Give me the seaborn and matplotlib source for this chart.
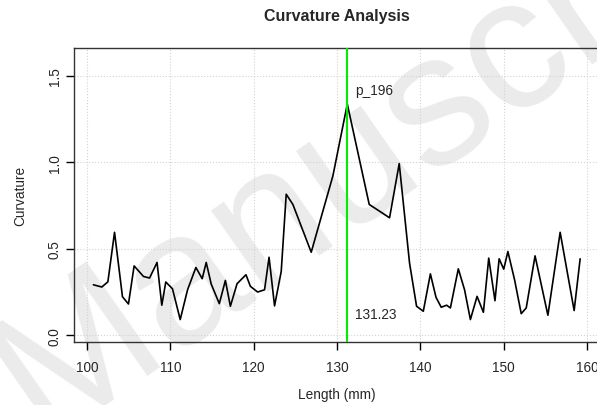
import matplotlib
matplotlib.use("Agg")
import matplotlib.pyplot as plt
import numpy as np
import pandas as pd
import seaborn as sns

# valores
longitud = [100.76, 101.77, 102.5, 103.3, 104.25, 104.97, 105.65, 106.77, 107.5, 108.4,
            108.97, 109.45, 110.25, 111.18, 112.06, 113.06, 113.82, 114.3, 114.9, 115.87,
            116.6, 117.2, 118.0, 119.07, 119.6, 120.47, 121.3, 121.84, 122.5, 123.3,
            123.9, 124.7, 126.9, 129.5, 131.23, 133.86, 136.3, 137.46, 138.7, 139.54,
            140.35, 141.2, 141.87, 142.5, 143.15, 143.6, 144.55, 145.3, 146.0, 146.8,
            147.56, 148.2, 148.95, 149.45, 150.0, 150.5, 151.3, 152.1, 152.7, 153.76,
            155.3, 156.77, 158.45, 159.17]
curvatura = [0.293, 0.28, 0.31, 0.596, 0.224, 0.182, 0.402, 0.341, 0.332, 0.422,
             0.175, 0.309, 0.27, 0.092, 0.264, 0.393, 0.328, 0.422, 0.297, 0.184,
             0.318, 0.169, 0.299, 0.351, 0.284, 0.251, 0.264, 0.452, 0.171, 0.37,
             0.816, 0.757, 0.481, 0.922, 1.337, 0.757, 0.68, 0.993, 0.418, 0.169,
             0.14, 0.356, 0.221, 0.163, 0.175, 0.159, 0.385, 0.264, 0.092, 0.226,
             0.134, 0.447, 0.201, 0.443, 0.383, 0.485, 0.322, 0.126, 0.159, 0.46,
             0.117, 0.596, 0.144, 0.443]
x_ticks = [100, 110, 120, 130, 140, 150, 160]
y_ticks = [0.0, 0.5, 1.0, 1.5]
pico_x = 131.23
pico_nombre = "p_196"

df = pd.DataFrame({"Length": longitud, "Curvature": curvatura})

sns.set_style("white")
plt.rcParams["font.family"] = ["Liberation Sans", "DejaVu Sans"]

fig = plt.figure(figsize=(5.97, 4.06), dpi=100)
ax = fig.add_axes([0.1243, 0.155, 0.88, 0.724])
ax.patch.set_alpha(0)

# marca de agua
fig.text(-0.06, -0.16, "Manuscript", fontsize=135, color="#ebebeb",
         rotation=35, ha="left", va="bottom", zorder=-1)

ax.set_xlim(98.46, 161.5)
ax.set_ylim(-0.038, 1.66)
ax.set_xticks(x_ticks)
ax.set_yticks(y_ticks)
ax.set_yticklabels([f"{v:.1f}" for v in y_ticks], rotation=90, va="center")
ax.grid(True, color="#d3d3d3", linestyle=":", linewidth=0.8)

sns.lineplot(data=df, x="Length", y="Curvature", sort=False, estimator=None,
             color="black", linewidth=1.2, ax=ax, zorder=3)

ax.axvline(pico_x, color="#00ee00", linewidth=1.5, zorder=4)
ax.text(pico_x + 0.95, 1.42, pico_nombre, fontsize=9.8, ha="left", va="center")
ax.text(pico_x + 0.95, 0.123, f"{pico_x:.2f}", fontsize=9.8, ha="left", va="center")

for s in ax.spines.values():
    s.set_color("#333333")
    s.set_linewidth(1.0)
ax.tick_params(axis="both", direction="out", length=6, width=1, color="black",
               labelsize=9.8, bottom=True, left=True)
ax.tick_params(axis="x", pad=7)
ax.tick_params(axis="y", pad=3)

ax.set_title("Curvature Analysis", fontsize=11.5, fontweight="bold", pad=20)
ax.set_xlabel("Length (mm)", fontsize=9.8, labelpad=9)
ax.set_ylabel("Curvature", fontsize=9.8, labelpad=15)

fig.savefig("out.png", dpi=100)
